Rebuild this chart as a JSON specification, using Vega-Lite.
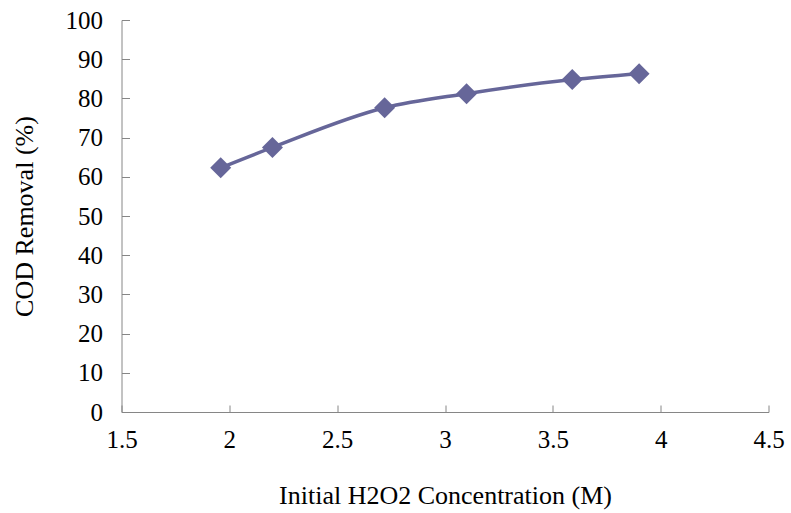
{
  "$schema": "https://vega.github.io/schema/vega-lite/v6.json",
  "width": 647,
  "height": 392,
  "autosize": {"type": "none"},
  "padding": {"left": 121.5, "top": 20, "right": 22, "bottom": 101},
  "background": "white",
  "config": {
    "view": {"stroke": null},
    "font": "Liberation Serif",
    "axis": {
      "grid": false,
      "domainColor": "#868686",
      "tickColor": "#868686",
      "labelFont": "Liberation Serif",
      "titleFont": "Liberation Serif",
      "labelColor": "black",
      "titleColor": "black",
      "labelFontSize": 25,
      "titleFontSize": 26,
      "titleFontWeight": "normal"
    }
  },
  "data": {
    "values": [
      {"c": 1.96, "r": 62.3},
      {"c": 2.2, "r": 67.5},
      {"c": 2.72, "r": 77.6},
      {"c": 3.1, "r": 81.2},
      {"c": 3.59, "r": 84.8},
      {"c": 3.9, "r": 86.3}
    ]
  },
  "encoding": {
    "x": {
      "field": "c",
      "type": "quantitative",
      "scale": {"domain": [1.5, 4.5], "nice": false},
      "axis": {
        "values": [1.5, 2, 2.5, 3, 3.5, 4, 4.5],
        "labelExpr": "datum.value",
        "tickSize": -7,
        "labelPadding": 22.5,
        "title": "Initial H2O2 Concentration (M)",
        "titlePadding": 30,
        "labelFlush": false
      }
    },
    "y": {
      "field": "r",
      "type": "quantitative",
      "scale": {"domain": [0, 100], "nice": false},
      "axis": {
        "values": [0, 10, 20, 30, 40, 50, 60, 70, 80, 90, 100],
        "tickSize": -8,
        "labelPadding": 27,
        "title": "COD Removal (%)",
        "titlePadding": 28,
        "labelFlush": false
      }
    }
  },
  "layer": [
    {
      "mark": {"type": "line", "color": "#666699", "strokeWidth": 3.5, "interpolate": "monotone"}
    },
    {
      "mark": {"type": "point", "shape": "diamond", "filled": true, "color": "#666699", "size": 440, "opacity": 1}
    }
  ]
}
